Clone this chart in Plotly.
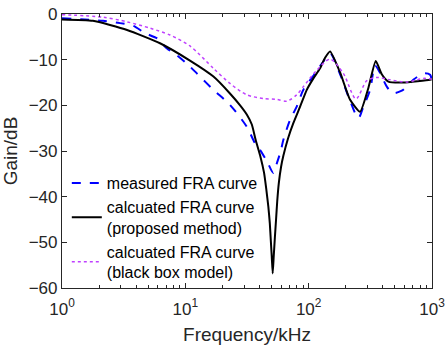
import plotly.graph_objects as go

# measured FRA curve (blue dashed)
f_meas = [1.0, 2.15, 2.95, 3.79, 4.71, 5.86, 7.06, 8.51, 10.6, 12.4, 16.9, 23.0, 31.5, 36.7,
          40.4, 46.0, 51.7, 55.5, 59.4, 62.3, 70.6, 80.0, 90.6, 112.7, 131.6, 149.2, 179.8, 216.7,
          253, 277.7, 314.8, 345.6, 379, 430, 478, 569, 706, 851, 965, 1000]
g_meas = [-0.95, -1.5, -2.0, -2.6, -4.2, -5.3, -7.5, -9.0, -11.2, -13.0, -16.6, -19.9, -24.7, -28.3,
          -29.8, -32.3, -34.8, -32.5, -30.0, -27.6, -23.2, -20.3, -16.6, -13.0, -10.4, -8.6, -13.2, -19.0,
          -22.8, -20.3, -16.6, -11.3, -12.9, -15.9, -17.3, -16.8, -14.4, -13.0, -13.3, -15.3]

# calculated FRA curve, proposed method (black solid)
f_prop = [1.0, 1.78, 3.37, 6.23, 10.9, 16.9, 23.0, 27.8, 31.5, 34.6, 37.2, 40.6, 43.5, 45.4, 47.1, 48.4,
          49.3, 50.2, 51.1, 52.1, 53.2, 54.4, 55.6, 57.3, 59.7, 62.4, 68.1, 75.1, 85.2, 96.5, 108.6,
          123.7, 135.8, 149.2, 179.8, 216.7, 261.1, 304.9, 349.8, 391.5, 442.7, 586, 965, 1000]
g_prop = [-1.2, -1.5, -3.5, -6.4, -10.2, -13.7, -17.4, -20.0, -22.0, -24.2, -27.6, -31.2, -34.8, -38.5, -42.2, -45.8,
          -49.5, -53.1, -56.8, -53.0, -49.0, -45.0, -41.0, -37.0, -33.5, -31.0, -27.2, -23.9, -20.3, -16.6, -14.2,
          -11.9, -9.6, -8.2, -12.8, -18.8, -21.4, -16.2, -10.3, -13.2, -14.8, -15.0, -14.4, -14.3]

# calculated FRA curve, black box model (purple dotted)
f_bb = [1.0, 2.15, 3.35, 5.17, 7.51, 10.9, 16.9, 23.0, 31.5, 42.9, 55.1, 66.4, 80.0, 90.6,
        116.4, 149.2, 191, 242, 296, 357, 457, 625, 851, 1000]
g_bb = [-0.15, -0.7, -1.7, -3.1, -4.6, -7.0, -11.9, -15.2, -17.7, -18.5, -18.7, -19.1, -17.7, -15.9,
        -12.3, -9.9, -13.0, -18.6, -14.6, -13.9, -14.4, -14.9, -14.1, -14.3]

names = ["measured FRA curve",
         "calcuated FRA curve<br>(proposed method)",
         "calcuated FRA curve<br>(black box model)"]

x_tickvals = [1, 10, 100, 1000]
x_ticktext = ["10<sup>0</sup>", "10<sup>1</sup>", "10<sup>2</sup>", "10<sup>3</sup>"]
x_minor = [m * d for d in (1, 10, 100) for m in range(2, 10)]
y_tickvals = [0, -10, -20, -30, -40, -50, -60]

fig = go.Figure()
fig.add_trace(go.Scatter(x=f_meas, y=g_meas, name=names[0], mode="lines",
                         line=dict(color="#0000FF", width=2, dash="dash", shape="spline", smoothing=0.8)))
fig.add_trace(go.Scatter(x=f_prop, y=g_prop, name=names[1], mode="lines",
                         line=dict(color="#000000", width=2, shape="spline", smoothing=0.5)))
fig.add_trace(go.Scatter(x=f_bb, y=g_bb, name=names[2], mode="lines",
                         line=dict(color="#BF40FF", width=1.5, dash="dot", shape="spline", smoothing=0.8)))
# invisible helper trace so the minor-tick axis is drawn
fig.add_trace(go.Scatter(x=[1, 1000], y=[None, None], xaxis="x2", showlegend=False,
                         hoverinfo="skip", mode="lines"))

axcol = "#262626"
fig.update_layout(
    width=446, height=347,
    margin=dict(l=62, r=14, t=14, b=59, autoexpand=False),
    paper_bgcolor="white", plot_bgcolor="white",
    font=dict(family="Liberation Sans, Arial, sans-serif", size=17, color=axcol),
    showlegend=True,
    legend=dict(x=0.013, y=0.445, xanchor="left", yanchor="top",
                bgcolor="rgba(0,0,0,0)", font=dict(size=16, color="#000000"),
                tracegroupgap=0),
    xaxis=dict(type="log", range=[0, 3], tickvals=x_tickvals, ticktext=x_ticktext,
               ticks="inside", ticklen=5, tickcolor=axcol, showline=True, linecolor=axcol,
               linewidth=1.2, mirror="ticks", showgrid=False, zeroline=False, automargin=False,
               tickfont=dict(size=17), ticklabelstandoff=5,
               title=dict(text="Frequency/kHz", font=dict(size=19), standoff=10)),
    xaxis2=dict(type="log", range=[0, 3], overlaying="x", anchor="y", side="bottom",
                tickvals=x_minor, ticks="inside", ticklen=3, tickcolor=axcol,
                showticklabels=False, showline=False, mirror="ticks", showgrid=False,
                zeroline=False, automargin=False),
    yaxis=dict(range=[-60, 0], tickvals=y_tickvals, ticks="inside", ticklen=5, tickcolor=axcol,
               showline=True, linecolor=axcol, linewidth=1.2, mirror="ticks", showgrid=False,
               zeroline=False, automargin=False, tickfont=dict(size=17),
               title=dict(text="Gain/dB", font=dict(size=19), standoff=6)),
)

fig.write_html("out.html", config={"displayModeBar": False},
               post_script="document.body.style.margin='0px';document.body.style.padding='0px';")
